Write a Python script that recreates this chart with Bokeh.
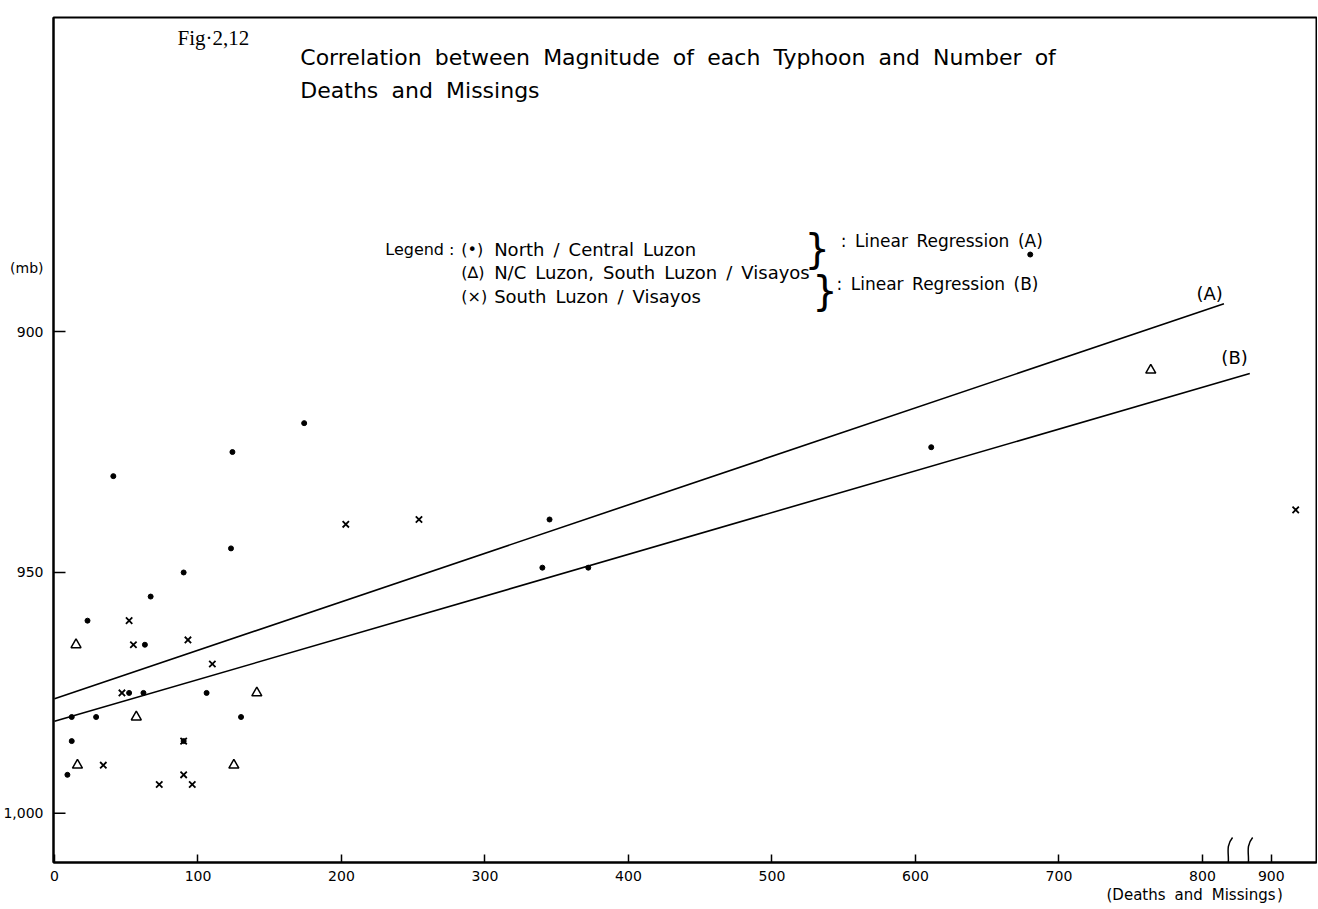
from bokeh.plotting import figure
from bokeh.models import Range1d, FixedTicker, Label, LinearAxis
from bokeh.embed import file_html
from bokeh.resources import INLINE

# ---------------- data ----------------
# North / Central Luzon (dots)
nc_deaths = [174, 124, 41, 123, 90, 67, 23, 63, 52, 62, 106, 141, 12, 29, 130, 12, 90, 9, 345, 340, 372, 611, 680]
nc_press = [919, 925, 930, 945, 950, 955, 960, 965, 975, 975, 975, 975, 980, 980, 980, 985, 985, 992, 939, 949, 949, 924, 884]
# N/C Luzon, South Luzon / Visayas (triangles)
both_deaths = [15, 57, 16, 125, 141, 764]
both_press = [965, 980, 990, 990, 975, 908]
# South Luzon / Visayas (crosses)
sl_deaths = [203, 254, 52, 55, 93, 110, 47, 90, 34, 90, 73, 96, 917]
sl_press = [940, 939, 960, 965, 964, 969, 975, 985, 990, 992, 994, 994, 937]
# regression lines (end points)
reg_a_x = [0, 815]
reg_a_y = [976.2, 894.2]
reg_b_x = [0, 833]
reg_b_y = [980.9, 908.7]
# axis ticks
x_tick_vals = [0, 100, 200, 300, 400, 500, 600, 700, 800, 900]
y_tick_vals = [900, 950, 1000]
y_tick_labels = {900: "900", 950: "950", 1000: "1,000"}
y_unit_pos = 886.7
x_title_pos = 794.6

# axis break between 800 and 900
BREAK_AT = 840
BREAK_SHIFT = 52


def disp(v):
    return v if v < BREAK_AT else v - BREAK_SHIFT


FONT = "DejaVu Sans"
X0, X1 = -0.7, 879.5
FRAME_W = 1263

p = figure(frame_width=FRAME_W, frame_height=845,
           min_border_left=52, min_border_right=1, min_border_top=17, min_border_bottom=10,
           x_range=Range1d(X0, X1), y_range=Range1d(1010.2, 834.8),
           output_backend="svg", toolbar_location=None, background_fill_color="white")
p.grid.visible = False
p.outline_line_color = "black"
p.outline_line_width = 2

# axes
p.xaxis.ticker = FixedTicker(ticks=[disp(v) for v in x_tick_vals])
p.xaxis.major_label_overrides = {disp(v): str(v) for v in x_tick_vals}
p.yaxis.ticker = FixedTicker(ticks=y_tick_vals + [y_unit_pos])
overr = dict(y_tick_labels)
overr[y_unit_pos] = "(mb)"
p.yaxis.major_label_overrides = overr
for ax in (p.xaxis, p.yaxis):
    ax.axis_line_width = 2
    ax.axis_line_color = "black"
    ax.major_tick_line_color = "black"
    ax.major_tick_line_width = 1.5
    ax.major_tick_out = 0
    ax.minor_tick_line_color = None
    ax.major_label_text_font = FONT
    ax.major_label_text_font_size = "14px"
    ax.major_label_text_color = "black"
p.xaxis.major_tick_in = 8
p.xaxis.major_label_standoff = 8
p.yaxis.major_label_standoff = 10
p.yaxis.major_tick_line_color = None   # drawn below, so "(mb)" gets no tick

# y tick marks (inside the frame)
tick_len = 12 * (X1 - X0) / FRAME_W
p.segment(x0=[X0] * len(y_tick_vals), y0=y_tick_vals, x1=[X0 + tick_len] * len(y_tick_vals),
          y1=y_tick_vals, line_color="black", line_width=1.5)

S = "\u2002"
W = "\u2002\u200a"
# x axis title as an extra label-only axis
xt = LinearAxis(ticker=FixedTicker(ticks=[x_title_pos]),
                major_label_overrides={x_title_pos: "(Deaths" + W + "and" + W + "Missings" + "\u200a)"},
                axis_line_color=None, major_tick_line_color=None, minor_tick_line_color=None,
                major_tick_in=0, major_tick_out=0, major_label_standoff=2,
                major_label_text_font=FONT, major_label_text_font_size="15px",
                major_label_text_color="black")
p.add_layout(xt, "below")

# regression lines
p.line(reg_a_x, reg_a_y, line_color="black", line_width=1.6)
p.line(reg_b_x, reg_b_y, line_color="black", line_width=1.6)

# points
p.scatter([disp(v) for v in nc_deaths], nc_press, marker="circle", size=5,
          fill_color="black", line_color="black")
p.scatter([disp(v) for v in both_deaths], both_press, marker="triangle", size=10,
          fill_color="white", line_color="black", line_width=1.5)
p.scatter([disp(v) for v in sl_deaths], sl_press, marker="x", size=9,
          line_color="black", line_width=1.8)

# axis-break marks
for bx in (BREAK_AT - 22, BREAK_AT - 8):
    p.bezier(x0=[bx - 3], y0=[1012.0], x1=[bx + 3], y1=[1005.0],
             cx0=[bx + 4], cy0=[1010.0], cx1=[bx - 4], cy1=[1007.5],
             line_color="black", line_width=1.5)


def lab(x, y, text, size, align="left", font=FONT, baseline="middle"):
    p.add_layout(Label(x=x, y=y, text=text, text_font=font, text_font_size=size,
                       text_align=align, text_baseline=baseline, text_color="black"))


# titles
lab(110.7, 839.1, "Fig·2,12", "21px", align="center", font="Liberation Serif")
lab(171.3, 843.1, W.join("Correlation between Magnitude of each Typhoon and Number of".split()), "22px")
lab(171.3, 849.9, W.join("Deaths and Missings".split()), "22px")

# legend
lab(230.5, 883.0, "Legend :", "16px")
lab(283.5, 883.0, "(•)", "16px")
lab(283.5, 887.8, "(∆)", "16px")
lab(283.5, 892.7, "(×)", "16px")
lab(306.4, 883.0, S.join("North / Central Luzon".split()), "18px")
lab(306.4, 887.8, "N/C" + S + "Luzon," + S + "South" + S + "Luzon" + S + "/" + S + "Visayos", "18px")
lab(306.4, 892.7, S.join("South Luzon / Visayos".split()), "18px")
lab(531.5, 882.8, "}", "40px", align="center")
lab(537.0, 891.5, "}", "40px", align="center")
lab(548.0, 881.1, ":" + S + S.join("Linear Regression (A)".split()), "17px")
lab(545.0, 890.2, ":" + S + S.join("Linear Regression (B)".split()), "17px")

# line labels
lab(805.0, 892.1, "(A)", "18px", align="center")
lab(822.4, 905.4, "(B)", "18px", align="center")

open("out.html", "w").write(file_html(p, INLINE))
